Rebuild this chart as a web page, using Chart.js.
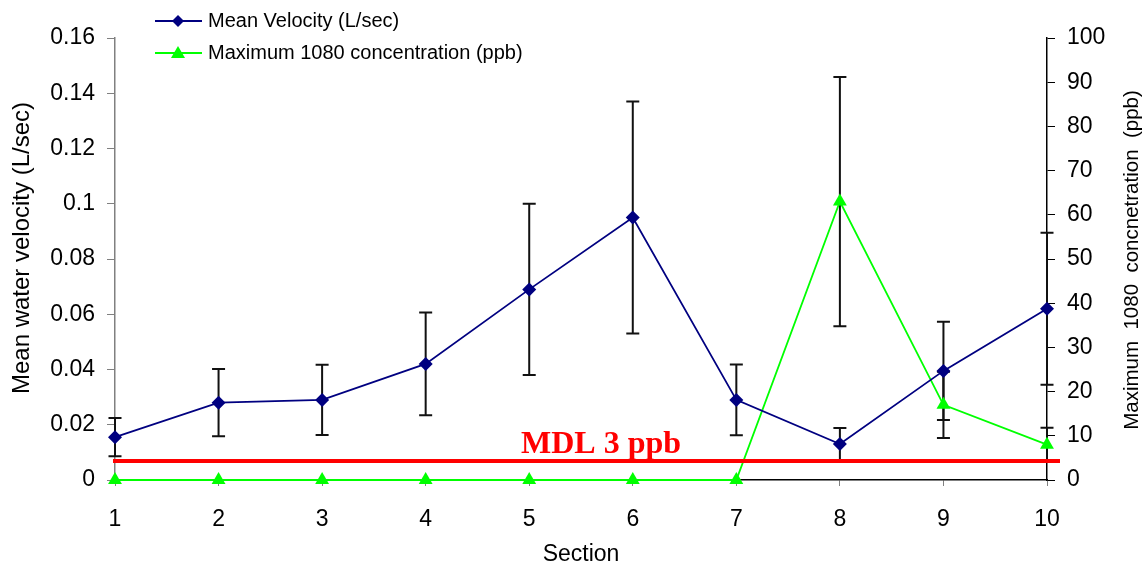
<!DOCTYPE html>
<html>
<head>
<meta charset="utf-8">
<script src="https://cdn.jsdelivr.net/npm/chart.js@4"></script>
<style>
  html, body { margin: 0; padding: 0; background: #fff; }
  #wrap { width: 1148px; height: 570px; position: relative; }
</style>
</head>
<body>
<div id="wrap"><canvas id="chart"></canvas></div>
<script>
// --- Data ---
const sections = [1, 2, 3, 4, 5, 6, 7, 8, 9, 10];
const velocity = [0.0155, 0.028, 0.029, 0.042, 0.069, 0.095, 0.029, 0.013, 0.0395, 0.062];
const velocityErr = [0.0069, 0.0122, 0.0127, 0.0186, 0.031, 0.042, 0.0128, 0.0058, 0.0178, 0.0275];
const concentration = [0, 0, 0, 0, 0, 0, 0, 63, 17, 8];
const concentrationErr = [0, 0, 0, 0, 0, 0, 0, 28.2, 7.5, 3.8];
const mdlLevel = 4.3; // ppb, right axis
const mdlLabel = 'MDL 3 ppb';

const FONT = '"Liberation Sans", Arial, sans-serif';

// --- Error bars, drawn through the chart scales ---
const errorBars = {
    id: 'errorBars',
    beforeDatasetsDraw(chart) {
        const ctx = chart.ctx;
        const x = chart.scales.x;
        ctx.save();
        ctx.strokeStyle = '#111';
        ctx.lineWidth = 2;
        const sets = [
            { values: velocity, errs: velocityErr, axis: chart.scales.y },
            { values: concentration, errs: concentrationErr, axis: chart.scales.y1 }
        ];
        sets.forEach(set => {
            sections.forEach((s, i) => {
                if (!set.errs[i]) return;
                const px = x.getPixelForValue(s);
                const top = set.axis.getPixelForValue(set.values[i] + set.errs[i]);
                const bot = set.axis.getPixelForValue(set.values[i] - set.errs[i]);
                ctx.beginPath();
                ctx.moveTo(px, top); ctx.lineTo(px, bot);
                ctx.moveTo(px - 6.5, top); ctx.lineTo(px + 6.5, top);
                ctx.moveTo(px - 6.5, bot); ctx.lineTo(px + 6.5, bot);
                ctx.stroke();
            });
        });
        ctx.restore();
    }
};

// --- MDL line, axis titles and legend ---
const decorations = {
    id: 'decorations',
    afterDatasetsDraw(chart) {
        const ctx = chart.ctx;
        const area = chart.chartArea;
        const py = chart.scales.y1.getPixelForValue(mdlLevel);
        ctx.save();
        ctx.strokeStyle = '#ff0000';
        ctx.lineWidth = 4;
        ctx.beginPath();
        ctx.moveTo(area.left - 2, py);
        ctx.lineTo(area.right + 13, py);
        ctx.stroke();

        ctx.fillStyle = '#ff0000';
        ctx.font = 'bold 32px "Liberation Serif", "Times New Roman", serif';
        ctx.textAlign = 'center';
        ctx.textBaseline = 'alphabetic';
        ctx.fillText(mdlLabel, 601, py - 8);
        ctx.restore();
    },
    afterDraw(chart) {
        const ctx = chart.ctx;
        ctx.save();
        ctx.fillStyle = '#000';
        ctx.textBaseline = 'middle';
        ctx.textAlign = 'center';

        // y axis titles (both read bottom to top)
        ctx.save();
        ctx.translate(22, 248);
        ctx.rotate(-Math.PI / 2);
        ctx.font = '24px ' + FONT;
        ctx.fillText('Mean water velocity (L/sec)', 0, 0);
        ctx.restore();

        ctx.save();
        ctx.translate(1132, 260);
        ctx.rotate(-Math.PI / 2);
        ctx.font = '20.5px ' + FONT;
        ctx.fillText('Maximum  1080  concnetration  (ppb)', 0, 0);
        ctx.restore();

        // legend
        const items = [
            { label: 'Mean Velocity (L/sec)', color: '#000080', marker: 'diamond', y: 21 },
            { label: 'Maximum 1080 concentration (ppb)', color: '#00ff00', marker: 'triangle', y: 53 }
        ];
        ctx.font = '20px ' + FONT;
        ctx.textAlign = 'left';
        items.forEach(it => {
            ctx.strokeStyle = it.color;
            ctx.fillStyle = it.color;
            ctx.lineWidth = 2;
            ctx.beginPath();
            ctx.moveTo(155, it.y); ctx.lineTo(202, it.y);
            ctx.stroke();
            ctx.beginPath();
            if (it.marker === 'diamond') {
                ctx.moveTo(178, it.y - 6); ctx.lineTo(184, it.y);
                ctx.lineTo(178, it.y + 6); ctx.lineTo(172, it.y);
            } else {
                ctx.moveTo(178, it.y - 7); ctx.lineTo(185, it.y + 5);
                ctx.lineTo(171, it.y + 5);
            }
            ctx.closePath();
            ctx.fill();
            ctx.fillStyle = '#000';
            ctx.fillText(it.label, 208, it.y);
        });
        ctx.restore();
    }
};

const tickFont = { family: FONT, size: 23 };

new Chart(document.getElementById('chart'), {
    type: 'line',
    data: {
        datasets: [
            {
                label: 'Mean Velocity (L/sec)',
                data: sections.map((s, i) => ({ x: s, y: velocity[i] })),
                yAxisID: 'y',
                borderColor: '#000080',
                backgroundColor: '#000080',
                borderWidth: 1.8,
                pointStyle: 'rectRot',
                pointRadius: 7,
                pointBorderWidth: 0,
                tension: 0
            },
            {
                label: 'Maximum 1080 concentration (ppb)',
                data: sections.map((s, i) => ({ x: s, y: concentration[i] })),
                yAxisID: 'y1',
                borderColor: '#00ff00',
                backgroundColor: '#00ff00',
                borderWidth: 1.8,
                pointStyle: 'triangle',
                pointRadius: 8,
                pointBorderWidth: 0,
                tension: 0
            }
        ]
    },
    options: {
        responsive: true,
        maintainAspectRatio: false,
        animation: false,
        clip: false,
        layout: { padding: { top: 38, left: 0, right: 0, bottom: 0 } },
        plugins: {
            legend: { display: false },
            tooltip: { enabled: false }
        },
        scales: {
            x: {
                type: 'linear',
                min: 1,
                max: 10,
                afterFit: s => { s.height = 90; },
                ticks: { stepSize: 1, color: '#000', font: tickFont, padding: 20 },
                grid: { drawOnChartArea: false, tickLength: 6, color: '#808080' },
                border: { color: '#000', width: 1.5 },
                title: {
                    display: true,
                    text: 'Section',
                    color: '#000',
                    font: { family: FONT, size: 23 },
                    padding: { top: 0, bottom: 2 }
                }
            },
            y: {
                position: 'left',
                min: 0,
                max: 0.16,
                afterFit: s => { s.width = 115; },
                ticks: {
                    stepSize: 0.02,
                    color: '#000',
                    font: tickFont,
                    padding: 12,
                    callback: v => String(Math.round(v * 100) / 100)
                },
                grid: { drawOnChartArea: false, tickLength: 8, color: '#808080' },
                border: { color: '#808080', width: 1.5 }
            },
            y1: {
                position: 'right',
                min: 0,
                max: 100,
                afterFit: s => { s.width = 101; },
                ticks: { stepSize: 10, color: '#000', font: tickFont, padding: 12 },
                grid: { drawOnChartArea: false, tickLength: 8, color: '#000' },
                border: { color: '#000', width: 1.5 }
            }
        }
    },
    plugins: [errorBars, decorations]
});
</script>
</body>
</html>
